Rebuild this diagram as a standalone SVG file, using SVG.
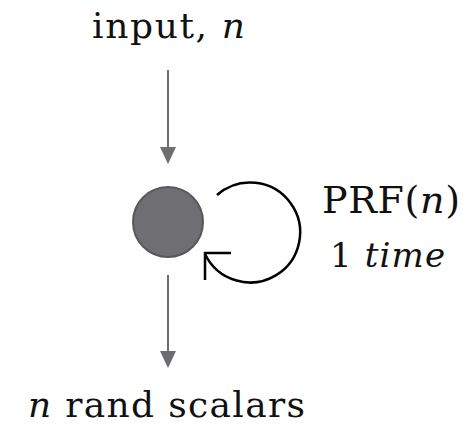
<svg xmlns="http://www.w3.org/2000/svg" width="470" height="424" viewBox="0 0 470 424">
<style>
text{font-family:"DejaVu Serif","Liberation Serif",serif;fill:#111}
.it{font-style:italic}
.arr{stroke:#6d6c70;stroke-width:2;fill:none}
.head{fill:#6d6c70}
.loop{stroke:#000;stroke-width:2.5;fill:none}
</style>
<rect width="470" height="424" fill="#fff"/>
<g id="input-label"><text x="92" y="38" font-size="36" textLength="153" lengthAdjust="spacing">input, <tspan class="it">n</tspan></text></g>
<g id="node"><circle cx="168" cy="222" r="35" fill="#6f6e73" stroke="#58575c" stroke-width="2"/></g>
<g id="prf-label"><text x="322" y="213" font-size="38" textLength="138" lengthAdjust="spacing">PRF(<tspan class="it">n</tspan>)</text>
<text x="330" y="267" font-size="34" textLength="115" lengthAdjust="spacing">1 <tspan class="it">time</tspan></text></g>
<g id="output-label"><text x="28" y="417" font-size="36" textLength="277" lengthAdjust="spacing"><tspan class="it">n</tspan> rand scalars</text></g>
<g id="connectors">
<line class="arr" x1="168" y1="70" x2="168" y2="150"/>
<path class="head" d="M160,147 L176,147 L168,164 Z"/>
<line class="arr" x1="168" y1="275" x2="168" y2="354"/>
<path class="head" d="M160,351 L176,351 L168,368 Z"/>
<path class="loop" d="M217,195 A50,50 0 1 1 205,254"/>
<path class="loop" d="M231,253 L205,253 L205,280"/>
</g>
</svg>
